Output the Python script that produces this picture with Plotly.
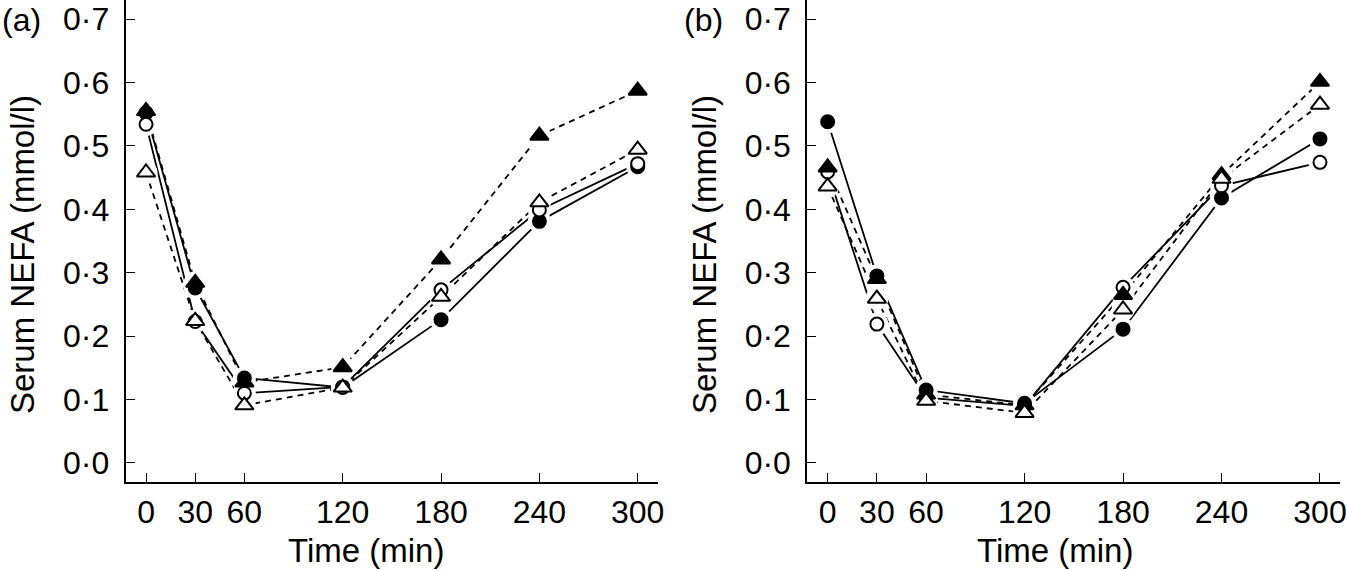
import plotly.graph_objects as go

# Tempo de colheita (min)
TIME = [0, 30, 60, 120, 180, 240, 300]

# Painel (a) - NEFA sérico (mmol/l)
A_FILLED_CIRCLE = [0.552, 0.276, 0.134, 0.119, 0.226, 0.381, 0.467]
A_OPEN_CIRCLE = [0.534, 0.223, 0.110, 0.120, 0.273, 0.399, 0.472]
A_FILLED_TRIANGLE = [0.555, 0.284, 0.127, 0.151, 0.321, 0.516, 0.587]
A_OPEN_TRIANGLE = [0.458, 0.224, 0.091, 0.119, 0.262, 0.411, 0.494]

# Painel (b)
B_FILLED_CIRCLE = [0.538, 0.295, 0.115, 0.094, 0.211, 0.418, 0.511]
B_OPEN_CIRCLE = [0.459, 0.219, 0.103, 0.090, 0.277, 0.437, 0.474]
B_FILLED_TRIANGLE = [0.466, 0.290, 0.108, 0.091, 0.265, 0.454, 0.601]
B_OPEN_TRIANGLE = [0.436, 0.259, 0.098, 0.079, 0.242, 0.448, 0.565]

X_TICKS = [0, 30, 60, 120, 180, 240, 300]
Y_TICKS = [0.0, 0.1, 0.2, 0.3, 0.4, 0.5, 0.6, 0.7]
Y_TICKTEXT = ["0·0", "0·1", "0·2", "0·3", "0·4", "0·5", "0·6", "0·7"]

FONT = "Liberation Sans, Arial, sans-serif"
W, H = 1347, 571

# (valores, símbolo, preenchimento, traço)
SERIES_A = [
    (A_FILLED_CIRCLE, "circle", "black", "solid"),
    (A_OPEN_CIRCLE, "circle", "white", "solid"),
    (A_FILLED_TRIANGLE, "triangle-up", "black", "6px,5px"),
    (A_OPEN_TRIANGLE, "triangle-up", "white", "6px,5px"),
]
SERIES_B = [
    (B_FILLED_CIRCLE, "circle", "black", "solid"),
    (B_OPEN_CIRCLE, "circle", "white", "solid"),
    (B_FILLED_TRIANGLE, "triangle-up", "black", "6px,5px"),
    (B_OPEN_TRIANGLE, "triangle-up", "white", "6px,5px"),
]

fig = go.Figure()


def add_panel(series, xa, ya):
    for vals, sym, fill, dash in series:
        fig.add_scatter(
            x=TIME, y=vals, mode="lines", xaxis=xa, yaxis=ya,
            line=dict(color="black", width=1.8, dash=dash),
            showlegend=False, hoverinfo="skip",
        )
    # halo branco para abrir espaço entre linha e marcador
    for vals, sym, fill, dash in series:
        fig.add_scatter(
            x=TIME, y=vals, mode="markers", xaxis=xa, yaxis=ya,
            marker=dict(symbol="circle", size=23, color="white", line=dict(width=0)),
            showlegend=False, hoverinfo="skip",
        )
    for vals, sym, fill, dash in series:
        size = 13 if sym == "circle" else 16
        fig.add_scatter(
            x=TIME, y=vals, mode="markers", xaxis=xa, yaxis=ya,
            marker=dict(symbol=sym, size=size, color=fill,
                        line=dict(color="black", width=2)),
            showlegend=False,
        )


add_panel(SERIES_A, "x", "y")
add_panel(SERIES_B, "x2", "y2")

xcommon = dict(
    range=[-12.4, 312.2], tickvals=X_TICKS, ticks="inside", ticklen=9,
    tickwidth=1, tickcolor="black", showline=True, linecolor="black",
    linewidth=2, showgrid=False, zeroline=False, ticklabelstandoff=1,
    automargin=False,
    tickfont=dict(family=FONT, size=32, color="black"),
)
ycommon = dict(
    range=[-0.0295, 0.730], tickvals=Y_TICKS, ticktext=Y_TICKTEXT,
    ticks="inside", ticklen=9, tickwidth=1, tickcolor="black",
    showline=True, linecolor="black", linewidth=2, showgrid=False,
    zeroline=False, ticklabelstandoff=8, automargin=False,
    tickfont=dict(family=FONT, size=32, color="black"),
)

fig.update_layout(
    width=W, height=H,
    margin=dict(l=0, r=0, t=0, b=0, autoexpand=False),
    plot_bgcolor="white", paper_bgcolor="white",
    xaxis=dict(domain=[125.7 / W, 657.7 / W], anchor="y", **xcommon),
    yaxis=dict(domain=[1 - 481.7 / H, 1], anchor="x", **ycommon),
    xaxis2=dict(domain=[807.3 / W, 1340 / W], anchor="y2", **xcommon),
    yaxis2=dict(domain=[1 - 481.7 / H, 1], anchor="x2", **ycommon),
    font=dict(family=FONT, size=32, color="black"),
    annotations=[
        dict(text="(a)", x=0, y=1 - 20 / H, xref="paper", yref="paper",
             xanchor="left", yanchor="middle", showarrow=False,
             font=dict(size=32)),
        dict(text="(b)", x=682 / W, y=1 - 20 / H, xref="paper", yref="paper",
             xanchor="left", yanchor="middle", showarrow=False,
             font=dict(size=32)),
        dict(text="Serum NEFA (mmol/l)", x=22 / W, y=1 - 255 / H,
             xref="paper", yref="paper", textangle=-90, showarrow=False,
             xanchor="center", yanchor="middle", font=dict(size=33)),
        dict(text="Serum NEFA (mmol/l)", x=704 / W, y=1 - 255 / H,
             xref="paper", yref="paper", textangle=-90, showarrow=False,
             xanchor="center", yanchor="middle", font=dict(size=33)),
        dict(text="Time (min)", x=366 / W, y=1 - 550 / H, xref="paper",
             yref="paper", showarrow=False, xanchor="center",
             yanchor="middle", font=dict(size=33)),
        dict(text="Time (min)", x=1055 / W, y=1 - 550 / H, xref="paper",
             yref="paper", showarrow=False, xanchor="center",
             yanchor="middle", font=dict(size=33)),
    ],
)

# sem a margem padrão do <body>, para a figura ocupar a janela inteira
fig.write_html(
    "out.html",
    config={"displayModeBar": False},
    post_script="document.body.style.margin='0';",
)
